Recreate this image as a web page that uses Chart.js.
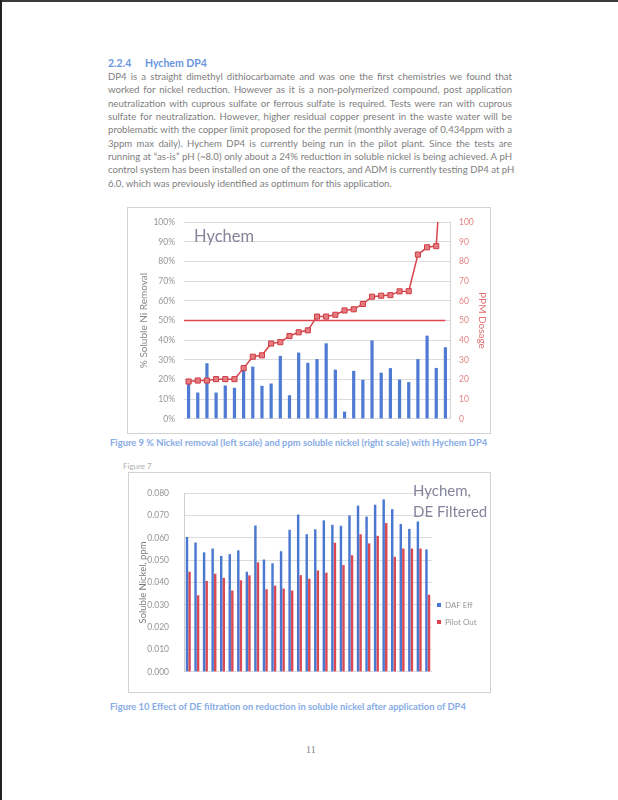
<!DOCTYPE html>
<html>
<head>
<meta charset="utf-8">
<script src="https://cdn.jsdelivr.net/npm/chart.js@4.4.1/dist/chart.umd.min.js"></script>
<style>
  html, body { margin: 0; padding: 0; background: #fff; }
  #page { position: relative; width: 618px; height: 800px; overflow: hidden; font-family: Lato, "Open Sans", sans-serif; }
  .edge-top { position: absolute; left: 0; top: 0; width: 618px; height: 2px; background: #3a3a3a; }
  .edge-left { position: absolute; left: 0; top: 0; width: 2px; height: 800px; background: #222; }
  .heading { position: absolute; left: 108px; top: 57px; font-size: 10.5px; font-weight: bold; color: #6a96de; white-space: nowrap; }
  .heading span { display: inline-block; width: 37px; }
  .para { position: absolute; left: 108px; top: 70px; width: 404px; font-size: 9.6px; line-height: 13.35px; color: #7e7e7e; }
  .para div { white-space: nowrap; text-align: justify; text-align-last: justify; }
  .para div.last { text-align-last: left; }
  .caption { position: absolute; left: 110px; font-size: 9.4px; font-weight: bold; color: #86abe6; white-space: nowrap; }
  .small { position: absolute; left: 123px; top: 461px; font-size: 8px; color: #b0b0b0; }
  .frame { position: absolute; border: 1px solid #d2d2d2; }
  .frame canvas { display: block; }
  .note { position: absolute; color: #84849a; white-space: nowrap; line-height: 1; }
  .legend { position: absolute; left: 437px; font-size: 8px; color: #969696; white-space: nowrap; }
  .legend span { display: inline-block; width: 4px; height: 4px; margin-right: 4px; vertical-align: 1px; }
  .pageno { position: absolute; left: 306px; top: 744px; font-family: "Liberation Serif", serif; font-size: 10px; color: #808080; }
</style>
</head>
<body>
<div id="page">
  <div class="edge-top"></div>
  <div class="edge-left"></div>

  <div class="heading"><span>2.2.4</span>Hychem DP4</div>
  <div class="para">
    <div>DP4 is a straight dimethyl dithiocarbamate and was one the first chemistries we found that</div>
    <div>worked for nickel reduction. However as it is a non-polymerized compound, post application</div>
    <div>neutralization with cuprous sulfate or ferrous sulfate is required. Tests were ran with cuprous</div>
    <div>sulfate for neutralization. However, higher residual copper present in the waste water will be</div>
    <div>problematic with the copper limit proposed for the permit (monthly average of 0.434ppm with a</div>
    <div>3ppm max daily).  Hychem DP4 is currently being run in the pilot plant.  Since the tests are</div>
    <div>running at “as-is” pH (~8.0) only about a 24% reduction in soluble nickel is being achieved. A pH</div>
    <div>control system has been installed on one of the reactors, and ADM is currently testing DP4 at pH</div>
    <div class="last">6.0, which was previously identified as optimum for this application.</div>
  </div>

  <div class="frame" style="left:127px; top:207px;">
    <canvas id="removalChart" width="362" height="225"></canvas>
  </div>
  <div class="note" style="left:194px; top:228px; font-size:16.5px;">Hychem</div>
  <div class="caption" style="top:437px;">Figure 9 % Nickel removal (left scale) and ppm soluble nickel (right scale) with Hychem DP4</div>

  <div class="small">Figure 7</div>
  <div class="frame" style="left:128px; top:472px;">
    <canvas id="filterChart" width="361" height="219"></canvas>
  </div>
  <div class="note" style="left:413px; top:480px; font-size:15px; line-height:21px;">Hychem,<br>DE Filtered</div>
  <div class="legend" style="top:600px;"><span style="background:#4a76d0"></span>DAF Eff</div>
  <div class="legend" style="top:617px;"><span style="background:#d9444f"></span>Pilot Out</div>
  <div class="caption" style="top:701px;">Figure 10 Effect of DE filtration on reduction in soluble nickel after application of DP4</div>

  <div class="pageno">11</div>
</div>

<script>
// Figure 9 - one entry per pilot run
const runs = ['1', '2', '3', '4', '5', '6', '7', '8', '9', '10', '11', '12', '13', '14', '15',
              '16', '17', '18', '19', '20', '21', '22', '23', '24', '25', '26', '27', '28', '29'];
const niRemoval = [18.3, 13.4, 28.3, 13.4, 17, 15.8, 24.7, 26.6, 16.8, 18, 32, 12, 33.7, 28.5, 30.4,
                   38.4, 25, 3.7, 24.4, 19.9, 39.9, 23.5, 25.8, 20, 18.7, 30.4, 42.3, 25.9, 36.4];
const ppmDosage = [19, 19.5, 19.5, 20.2, 20.2, 20.2, 25.8, 31.6, 32.3, 38.3, 39, 42.1, 44, 45, 52,
                   52, 52.9, 55.1, 55.7, 58.4, 62.1, 62.6, 62.9, 64.8, 64.9, 83.5, 87.2, 87.8, 160];
const removalTarget = 50;

// Figure 10
const dafEff = [0.0604, 0.0579, 0.0535, 0.0552, 0.0519, 0.0527, 0.0544, 0.0448, 0.0655, 0.0503,
                0.0486, 0.054, 0.0636, 0.0704, 0.0616, 0.0638, 0.0678, 0.0658, 0.0654, 0.07,
                0.0744, 0.0695, 0.0748, 0.0772, 0.0728, 0.0662, 0.064, 0.0673, 0.0548];
const pilotOut = [0.0448, 0.0343, 0.0407, 0.0439, 0.0421, 0.0364, 0.041, 0.0432, 0.049, 0.037,
                  0.0386, 0.0373, 0.0364, 0.0433, 0.0417, 0.0454, 0.0444, 0.0578, 0.0478, 0.0522,
                  0.0616, 0.0575, 0.0609, 0.0666, 0.0515, 0.0552, 0.0552, 0.0552, 0.0345];

Chart.defaults.font.family = 'Lato, "Open Sans", sans-serif';
Chart.defaults.animation = false;

// red 50% reference line across the plot
const targetLine = {
    id: 'targetLine',
    beforeDatasetsDraw(chart) {
        const { ctx, chartArea, scales } = chart;
        const y = scales.y.getPixelForValue(removalTarget);
        const xEnd = scales.x.getPixelForValue(runs.length - 1);
        ctx.save();
        ctx.strokeStyle = '#e0474f';
        ctx.lineWidth = 1.5;
        ctx.beginPath();
        ctx.moveTo(chartArea.left, y);
        ctx.lineTo(xEnd, y);
        ctx.stroke();
        ctx.restore();
    }
};

const gridColor = '#dcdcdc';

new Chart(document.getElementById('removalChart'), {
    type: 'bar',
    data: {
        labels: runs,
        datasets: [
            {
                type: 'line',
                label: 'PPM Dosage',
                data: ppmDosage,
                yAxisID: 'y1',
                order: 0,
                borderColor: '#d8434b',
                borderWidth: 1.5,
                pointStyle: 'rect',
                pointRadius: 3.6,
                pointBackgroundColor: '#e47d82',
                pointBorderColor: '#cf3a42',
                pointBorderWidth: 1,
                tension: 0
            },
            {
                label: '% Soluble Ni Removal',
                data: niRemoval,
                yAxisID: 'y',
                order: 1,
                backgroundColor: '#4f7bd2',
                borderWidth: 0,
                barPercentage: 0.44,
                categoryPercentage: 0.8
            }
        ]
    },
    options: {
        responsive: false,
        layout: { padding: { top: 11, bottom: 14, left: 0, right: 0 } },
        plugins: { legend: { display: false }, tooltip: { enabled: false } },
        scales: {
            x: { display: false, offset: true },
            y: {
                position: 'left',
                min: 0,
                max: 100,
                afterFit: s => { s.width = 56; },
                ticks: { stepSize: 10, padding: 9, color: '#959595', font: { size: 8.5 }, callback: v => v + '%' },
                grid: { color: gridColor, drawTicks: false },
                border: { display: false },
                title: { display: true, text: '% Soluble Ni Removal', color: '#84848c', font: { size: 10 }, padding: { top: 10, bottom: 0 } }
            },
            y1: {
                position: 'right',
                min: 0,
                max: 100,
                afterFit: s => { s.width = 40; },
                ticks: { stepSize: 10, padding: 9, color: '#e48484', font: { size: 8.5 } },
                grid: { display: false, drawTicks: false },
                border: { display: true, color: '#d4d4d4' },
                title: { display: true, text: 'PPM Dosage', color: '#e27070', font: { size: 10 }, padding: { top: 2, bottom: 0 } }
            }
        }
    },
    plugins: [targetLine]
});

new Chart(document.getElementById('filterChart'), {
    type: 'bar',
    data: {
        labels: runs,
        datasets: [
            {
                label: 'DAF Eff',
                data: dafEff,
                backgroundColor: '#4a77d0',
                borderWidth: 0,
                barPercentage: 0.95,
                categoryPercentage: 0.6
            },
            {
                label: 'Pilot Out',
                data: pilotOut,
                backgroundColor: '#da4851',
                borderWidth: 0,
                barPercentage: 0.95,
                categoryPercentage: 0.6
            }
        ]
    },
    options: {
        responsive: false,
        layout: { padding: { top: 11, bottom: 12, left: 0, right: 58 } },
        plugins: { legend: { display: false }, tooltip: { enabled: false } },
        scales: {
            x: { display: false, offset: true },
            y: {
                min: 0,
                max: 0.08,
                afterFit: s => { s.width = 55; },
                ticks: { stepSize: 0.01, padding: 15, color: '#959595', font: { size: 8.5 }, callback: v => v.toFixed(3) },
                grid: { color: gridColor, drawTicks: false },
                border: { display: true, color: '#cfcfcf' },
                title: { display: true, text: 'Soluble Nickel, ppm', color: '#7c7c7c', font: { size: 9.5 }, padding: { top: 8, bottom: 0 } }
            }
        }
    }
});
</script>
</body>
</html>
